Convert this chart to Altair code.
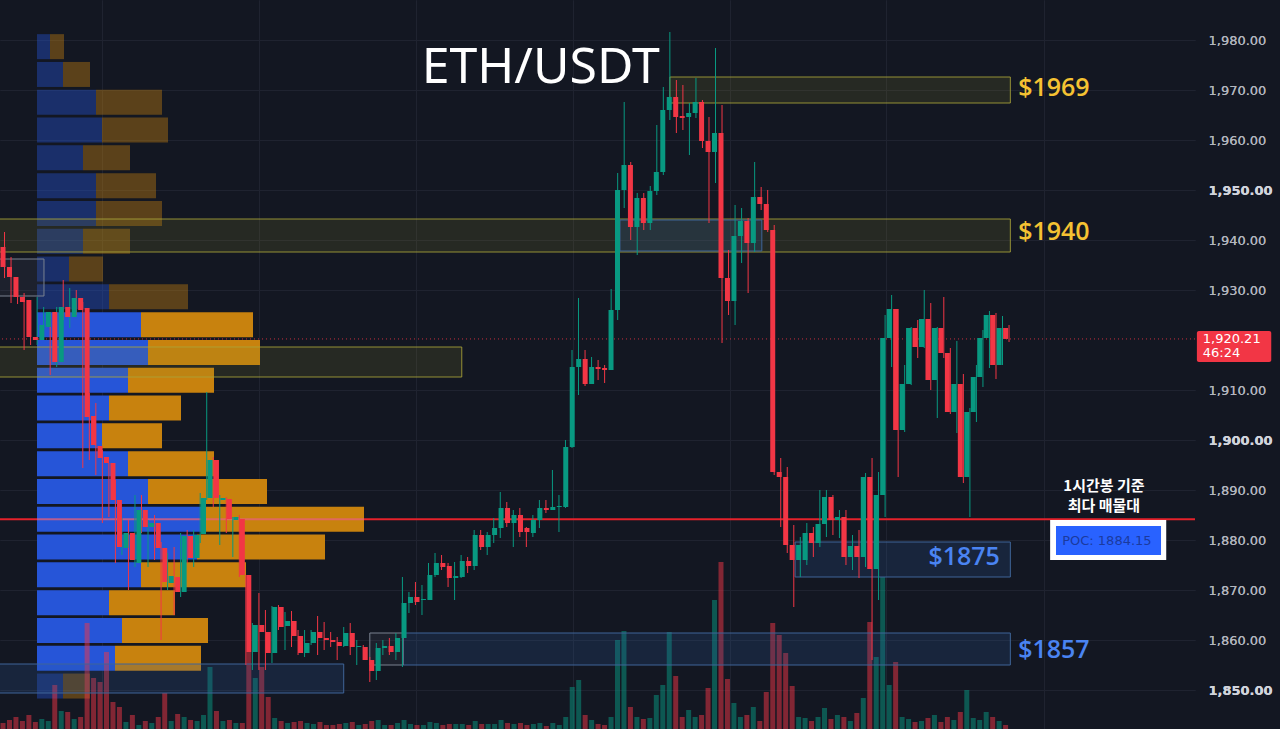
import altair as alt
import pandas as pd

# ---------------- data (1h candles, ETH/USDT) ----------------
opens = [1938.6,1934.6,1932.6,1928.6,1928.0,1920.6,1920.0,1922.6,1925.6,1915.6,
         1926.6,1924.6,1928.4,1926.4,1904.8,1898.8,1896.6,1895.4,1888.0,1878.4,
         1881.4,1875.4,1886.0,1882.6,1883.4,1878.4,1871.4,1872.6,1869.6,1880.8,
         1876.4,1881.2,1888.4,1896.0,1888.0,1888.2,1884.0,1884.2,1873.0,1857.6,
         1863.0,1861.6,1857.4,1866.6,1862.8,1863.8,1860.8,1857.4,1859.4,1861.6,
         1860.4,1860.0,1859.6,1858.8,1861.4,1858.6,1858.6,1856.0,1853.8,1858.4,
         1858.8,1857.6,1860.4,1867.4,1868.6,1868.0,1868.0,1873.0,1875.4,1874.8,
         1872.4,1872.6,1875.8,1874.8,1881.0,1878.6,1881.0,1882.4,1886.4,1883.4,
         1885.0,1882.4,1881.4,1884.0,1886.4,1886.0,1886.6,1886.6,1898.6,1914.6,
         1916.2,1911.2,1914.6,1914.4,1914.0,1926.0,1950.0,1955.0,1942.6,1948.4,
         1943.4,1949.8,1953.6,1966.0,1968.6,1964.8,1964.6,1965.4,1967.6,1959.8,
         1957.6,1961.4,1932.4,1927.8,1940.8,1943.8,1939.4,1948.6,1947.2,1942.0,
         1893.6,1892.6,1879.0,1876.0,1876.0,1881.4,1879.4,1883.2,1888.6,1884.0,
         1884.6,1876.6,1878.8,1876.6,1892.6,1874.2,1889.0,1920.4,1926.2,1902.0,
         1911.2,1922.4,1918.6,1924.2,1912.0,1922.4,1917.4,1905.6,1911.2,1892.6,
         1905.6,1912.6,1920.4,1925.0,1915.0,1922.4]
highs = [1940.6,1941.6,1936.6,1929.4,1929.4,1926.0,1928.6,1926.6,1925.6,1926.6,
         1932.0,1930.4,1930.0,1927.6,1909.4,1907.4,1898.0,1895.4,1892.0,1884.4,
         1884.0,1889.0,1889.0,1884.0,1885.0,1879.6,1877.4,1878.6,1881.4,1882.0,
         1882.0,1889.4,1909.6,1896.6,1889.0,1888.6,1884.6,1885.0,1873.0,1863.4,
         1869.4,1866.0,1866.8,1867.0,1865.6,1865.8,1862.0,1862.0,1862.0,1864.8,
         1863.6,1861.6,1860.6,1862.6,1863.4,1860.0,1859.0,1856.6,1859.4,1860.0,
         1860.4,1861.4,1872.6,1869.6,1871.6,1871.0,1875.4,1877.4,1877.0,1875.4,
         1875.6,1877.0,1876.6,1882.0,1882.0,1881.6,1884.4,1889.6,1887.6,1886.0,
         1886.4,1882.6,1885.0,1888.0,1888.0,1894.0,1889.0,1900.0,1918.0,1928.4,
         1918.0,1916.6,1916.0,1915.0,1930.2,1953.4,1967.6,1955.6,1949.4,1949.4,
         1950.8,1963.0,1970.6,1981.6,1972.0,1971.0,1967.4,1972.4,1968.0,1964.6,
         1978.4,1967.0,1938.0,1947.0,1946.4,1944.4,1955.6,1950.6,1950.0,1943.0,
         1896.4,1894.6,1883.0,1880.6,1883.4,1882.6,1890.0,1890.0,1889.0,1886.0,
         1886.0,1881.0,1882.0,1893.4,1896.4,1893.6,1925.0,1929.0,1926.2,1915.0,
         1922.6,1924.0,1930.0,1927.4,1922.6,1928.6,1918.4,1919.8,1913.2,1906.4,
         1915.0,1922.0,1925.8,1925.4,1924.8,1923.0]
lows = [1934.0,1932.4,1927.4,1927.2,1918.0,1919.0,1919.0,1922.0,1913.0,1914.6,
        1924.0,1922.4,1925.0,1894.4,1896.0,1893.0,1883.4,1884.6,1875.4,1877.0,
        1870.0,1874.6,1881.4,1874.6,1876.0,1860.0,1870.0,1865.0,1868.6,1875.4,
        1874.6,1879.4,1888.0,1886.6,1879.0,1881.4,1876.6,1872.6,1855.0,1854.0,
        1854.0,1854.0,1855.4,1862.0,1858.0,1858.6,1857.0,1856.6,1859.0,1857.0,
        1858.0,1858.6,1856.0,1858.6,1857.0,1855.0,1856.0,1851.6,1852.0,1857.0,
        1857.0,1856.0,1854.6,1865.4,1867.0,1865.0,1868.0,1872.6,1874.0,1870.6,
        1868.0,1872.4,1873.4,1874.0,1878.0,1877.0,1879.4,1880.4,1882.6,1878.6,
        1880.6,1878.6,1880.6,1882.4,1885.4,1886.0,1881.6,1886.4,1898.4,1909.0,
        1910.8,1911.2,1912.0,1911.4,1914.0,1924.0,1946.4,1940.0,1937.0,1942.0,
        1942.0,1949.0,1953.0,1964.0,1961.4,1962.0,1957.0,1964.4,1958.4,1943.4,
        1951.4,1919.4,1925.0,1923.0,1935.4,1929.4,1937.6,1946.0,1941.6,1893.0,
        1882.6,1877.4,1866.6,1872.6,1875.0,1876.6,1878.6,1880.6,1881.0,1880.4,
        1875.0,1874.0,1872.4,1874.6,1856.0,1868.0,1884.6,1914.6,1892.6,1901.6,
        1911.0,1916.4,1918.4,1910.0,1904.4,1916.4,1905.2,1901.4,1891.4,1884.6,
        1903.6,1910.6,1914.4,1912.2,1915.0,1919.6]
closes = [1934.6,1932.6,1928.6,1927.6,1920.6,1920.0,1923.0,1925.6,1915.6,1926.6,
          1924.6,1928.4,1926.0,1904.6,1899.0,1896.4,1895.4,1888.0,1878.6,1881.4,
          1876.0,1886.0,1882.6,1883.4,1878.4,1871.6,1872.8,1869.6,1880.8,1876.4,
          1881.0,1888.4,1896.0,1888.4,1888.4,1884.2,1884.6,1873.0,1857.6,1863.0,
          1861.6,1857.4,1866.6,1862.6,1863.8,1860.8,1857.4,1859.4,1861.6,1860.4,
          1860.0,1859.6,1858.8,1861.4,1858.6,1858.8,1856.0,1853.8,1858.4,1858.8,
          1857.6,1860.4,1867.4,1868.6,1867.6,1868.2,1873.0,1875.4,1874.6,1872.4,
          1872.8,1875.8,1874.8,1881.0,1878.6,1881.0,1882.4,1886.4,1883.4,1885.0,
          1881.6,1881.6,1884.0,1886.4,1886.0,1886.6,1886.8,1898.6,1914.6,1916.2,
          1911.2,1914.6,1914.2,1914.0,1926.0,1950.0,1955.0,1942.6,1948.4,1943.4,
          1949.8,1953.6,1966.0,1968.6,1964.6,1964.4,1965.4,1967.6,1959.8,1957.6,
          1961.4,1932.4,1927.8,1940.8,1943.8,1939.4,1948.6,1947.2,1942.0,1893.6,
          1892.6,1879.0,1876.0,1879.0,1881.4,1879.4,1883.2,1888.6,1884.0,1884.6,
          1876.6,1878.8,1876.6,1892.6,1874.2,1889.0,1920.4,1926.2,1902.0,1911.2,
          1922.4,1918.6,1924.2,1912.0,1922.4,1917.4,1905.6,1911.2,1892.6,1905.6,
          1912.6,1920.4,1925.0,1915.0,1922.4,1920.21]
volumes = [30,45,60,40,70,35,50,40,220,90,85,50,60,530,255,235,385,135,110,35,
           70,20,40,30,60,180,40,75,60,45,40,70,310,90,40,45,30,30,385,255,
           310,160,55,40,30,35,40,30,25,35,20,20,25,30,35,20,25,40,45,20,
           20,30,45,25,20,20,35,30,20,25,25,25,20,40,25,25,25,45,30,25,
           30,20,25,30,15,30,20,60,210,245,70,45,25,20,60,445,490,110,60,50,
           55,170,220,485,265,60,95,60,70,205,645,835,250,130,60,70,110,40,185,530,
           470,380,215,60,55,40,60,105,50,70,60,40,80,155,535,360,760,220,335,60,
           50,35,40,55,70,35,60,45,85,195,55,45,85,60,40,20]

# volume profile (price bins, up / down volume)
prof_center = [1978.67,1973.11,1967.55,1961.99,1956.43,1950.87,1945.31,1939.75,
               1934.19,1928.63,1923.07,1917.51,1911.95,1906.39,1900.83,1895.27,
               1889.71,1884.15,1878.59,1873.03,1867.47,1861.91,1856.35,1850.79]
prof_up = [130,260,590,650,460,590,590,460,320,720,1040,1110,910,720,650,910,
           1110,1660,1600,1040,720,850,780,260]
prof_down = [140,270,660,660,470,600,660,470,340,790,1120,1120,860,720,600,860,
             1190,1610,1280,1050,660,860,860,270]
prof_in_va = [False]*10 + [True]*13 + [False]
poc_price = 1884.15
last_price = closes[-1]

# zones: start/end in candle index, top/bottom in price
yellow_t0 = [103.0, 0.0, 0.0]
yellow_t1 = [155.2, 155.2, 71.1]
yellow_top = [1972.6, 1944.2, 1918.6]
yellow_bot = [1967.4, 1937.6, 1912.6]

blue_t0 = [95.35, 122.2, 62.1, 0.0]
blue_t1 = [117.1, 155.2, 155.2, 53.0]
blue_top = [1944.0, 1879.6, 1861.4, 1855.2]
blue_bot = [1937.8, 1872.6, 1855.0, 1849.4]

gray_t0 = [0.0, 57.0]
gray_t1 = [7.05, 62.1]
gray_top = [1936.2, 1861.4]
gray_bot = [1928.8, 1855.0]

grid_times = [15.94, 40.01, 64.08, 88.15, 112.22, 136.13, 160.35]
price_ticks = [1850, 1860, 1870, 1880, 1890, 1900, 1910, 1930, 1940, 1950, 1960, 1970, 1980]

# ---------------- chart ----------------
BG = "#131722"
GREEN = "#089981"
RED = "#f23645"
GRID = "#1f2330"

W, H = 1195, 729
XD = [0.307, 183.51]
YD = [1842.2, 1988.0]
xs = alt.Scale(domain=XD, nice=False, zero=False)
ys = alt.Scale(domain=YD, nice=False, zero=False)
pxs = alt.Scale(domain=[-370, 11580], nice=False, zero=False)

df = pd.DataFrame({"i": list(range(len(opens))), "open": opens, "high": highs,
                   "low": lows, "close": closes, "vol": volumes})
pdf = pd.DataFrame({"center": prof_center, "up": prof_up, "down": prof_down, "va": prof_in_va})

col = alt.condition("datum.close >= datum.open", alt.value(GREEN), alt.value(RED))

X = lambda f: alt.X(f, scale=xs, axis=None)
Y = lambda f: alt.Y(f, scale=ys, axis=None)

# POC full-width line (below the profile)
poc_line = alt.Chart(pd.DataFrame({"p": [poc_price]})).mark_rule(
    color="#e5222b", strokeWidth=2).encode(y=Y("p:Q"))

prof_blue = alt.Chart(pdf).transform_calculate(
    top="datum.center + 2.5", bot="datum.center - 2.5", z="0"
).mark_rect(color="#2655d8").encode(
    x=alt.X("z:Q", scale=pxs, axis=None), x2="up:Q",
    y=Y("top:Q"), y2="bot:Q",
    opacity=alt.condition("datum.va", alt.value(1.0), alt.value(0.4)))

prof_orange = alt.Chart(pdf).transform_calculate(
    top="datum.center + 2.5", bot="datum.center - 2.5", e="datum.up + datum.down"
).mark_rect(color="#c8820e").encode(
    x=alt.X("up:Q", scale=pxs, axis=None), x2="e:Q",
    y=Y("top:Q"), y2="bot:Q",
    opacity=alt.condition("datum.va", alt.value(1.0), alt.value(0.4)))

poc_seg = alt.Chart(pdf).transform_filter(f"datum.center == {poc_price}").transform_calculate(
    z="0", e="datum.up + datum.down"
).mark_rule(color="#e8607a", strokeWidth=2, opacity=0.75).encode(
    x=alt.X("z:Q", scale=pxs, axis=None), x2="e:Q", y=Y("center:Q"))

vol = alt.Chart(df).mark_bar(size=5, opacity=0.5).encode(
    x=X("i:Q"),
    y=alt.Y("vol:Q", scale=alt.Scale(domain=[0, 3645], nice=False), axis=None),
    color=col)

def zones(t0, t1, top, bot, fill, stroke, fo, so=1.0):
    d = pd.DataFrame({"t0": t0, "t1": t1, "top": top, "bot": bot})
    return alt.Chart(d).mark_rect(fill=fill, fillOpacity=fo, stroke=stroke,
                                  strokeWidth=1, strokeOpacity=so).encode(
        x=X("t0:Q"), x2="t1:Q", y=Y("top:Q"), y2="bot:Q")

z_yellow = zones(yellow_t0, yellow_t1, yellow_top, yellow_bot, "#8c8a2c", "#aaa43a", 0.16, 0.85)
z_blue = zones(blue_t0, blue_t1, blue_top, blue_bot, "#2f5a9a", "#3f6598", 0.22)
z_gray = zones(gray_t0, gray_t1, gray_top, gray_bot, "#5a6070", "#7a8290", 0.15)

price_line = alt.Chart(pd.DataFrame({"p": [last_price]})).mark_rule(
    color=RED, strokeWidth=1, strokeDash=[1, 3], opacity=0.8).encode(y=Y("p:Q"))

yaxis = alt.Axis(orient="right", values=price_ticks, format=",.2f", title=None,
                 labelFont="DejaVu Sans", labelFontSize=13, labelPadding=13,
                 labelColor={"condition": {"test": "datum.value % 50 === 0", "value": "#d1d4dc"},
                             "value": "#b2b5be"},
                 labelFontWeight={"condition": {"test": "datum.value % 50 === 0", "value": "bold"},
                                  "value": "normal"},
                 ticks=False, domain=False, grid=True, gridColor=GRID, gridWidth=1)
xaxis = alt.Axis(values=grid_times, labels=False, ticks=False, domain=False, title=None,
                 grid=True, gridColor=GRID, gridWidth=1)

wick = alt.Chart(df).mark_rule(strokeWidth=1).encode(
    x=alt.X("i:Q", scale=xs, axis=xaxis),
    y=alt.Y("low:Q", scale=ys, axis=yaxis), y2="high:Q", color=col)

body = alt.Chart(df).transform_calculate(
    c2="abs(datum.close - datum.open) < 0.2 ? datum.open - 0.2 : datum.close"
).mark_bar(size=5).encode(x=X("i:Q"), y=Y("open:Q"), y2="c2:Q", color=col)

def label(txt, t, p, **kw):
    d = pd.DataFrame({"t": [t], "p": [p], "txt": [txt]})
    return alt.Chart(d).mark_text(**kw).encode(x=X("t:Q"), y=Y("p:Q"), text="txt:N")

def box(t0, t1, top, bot, **kw):
    d = pd.DataFrame({"t0": [t0], "t1": [t1], "top": [top], "bot": [bot]})
    return alt.Chart(d).mark_rect(**kw).encode(x=X("t0:Q"), x2="t1:Q", y=Y("top:Q"), y2="bot:Q")

title = label("ETH/USDT", 83.2, 1971.4, font="Noto Sans", fontSize=50, color="white",
              align="center", baseline="alphabetic")
l1969 = label("$1969", 156.4, 1970.4, font="Open Sans", fontSize=25, fontWeight=600,
              color="#f5c232", align="left", baseline="middle")
l1940 = label("$1940", 156.4, 1941.6, font="Open Sans", fontSize=25, fontWeight=600,
              color="#f5c232", align="left", baseline="middle")
l1875 = label("$1875", 153.6, 1876.6, font="Open Sans", fontSize=25, fontWeight=600,
              color="#4a84f2", align="right", baseline="middle")
l1857 = label("$1857", 156.4, 1858.0, font="Open Sans", fontSize=25, fontWeight=600,
              color="#4a84f2", align="left", baseline="middle")
kor = label("1시간봉 기준\n최다 매물대", 169.55, 1890.8, font="Noto Sans CJK KR", fontSize=15,
            fontWeight="bold", color="white", align="center", baseline="middle",
            lineBreak="\n", lineHeight=20)
poc_box_w = box(161.3, 179.1, 1884.0, 1876.0, color="white")
poc_box_b = box(162.2, 178.3, 1882.8, 1877.0, color="#2962ff")
poc_txt = label(f"POC: {poc_price:.2f}", 170.0, 1879.8, font="DejaVu Sans", fontSize=13,
                color="#1b3a9e", align="center", baseline="middle")
price_box = box(183.8, 195.2, 1921.8, 1915.6, color=RED, cornerRadius=2)
price_txt = label(f"{last_price:,.2f}", 184.7, 1920.2, font="DejaVu Sans", fontSize=13,
                  color="white", align="left", baseline="middle")
timer_txt = label("46:24", 184.7, 1917.4, font="DejaVu Sans", fontSize=13,
                  color="white", align="left", baseline="middle")

chart = alt.layer(
    wick.mark_rule(strokeWidth=0),  # axis / grid carrier
    poc_line, prof_blue, prof_orange, poc_seg, vol,
    z_yellow, z_blue, z_gray, price_line,
    wick, body,
    title, l1969, l1940, l1875, l1857, kor,
    poc_box_w, poc_box_b, poc_txt, price_box, price_txt, timer_txt,
).resolve_scale(x="independent", y="independent").properties(
    width=W, height=H,
    padding={"left": 0, "top": 0, "right": 85, "bottom": 0},
    autosize=alt.AutoSizeParams(type="none"),
).configure(background=BG).configure_view(strokeWidth=0)

chart.save("out.html", embed_options={"renderer": "svg", "actions": False})
